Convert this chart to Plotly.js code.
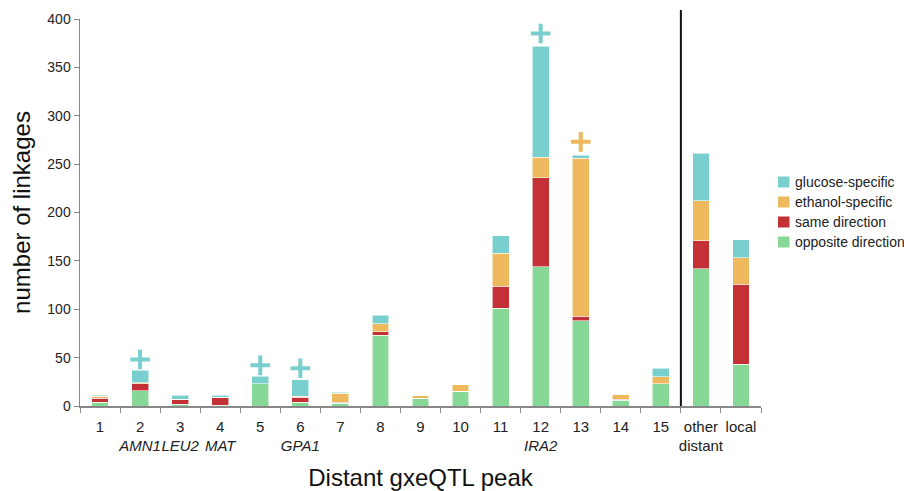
<!DOCTYPE html>
<html>
<head>
<meta charset="utf-8">
<script src="https://cdn.plot.ly/plotly-3.0.1.min.js"></script>
<style>html,body{margin:0;padding:0;background:#fff;}#chart{width:904px;height:491px;}</style>
</head>
<body>
<div id="chart"></div>
<script>
// Categories and labels
const categories = ["1","2","3","4","5","6","7","8","9","10","11","12","13","14","15","other","local"];
const secondLine = ["","AMN1","LEU2","MAT","","GPA1","","","","","","IRA2","","","","distant",""];
const italicSecond = [true,true,true,true,true,true,true,true,true,true,true,true,true,true,true,false,false];

// Series values (stacked bottom to top)
const opposite = [4,16,2,1,23,4,3,73,8,15,101,144,88,6,23,142,43];
const same     = [4,7,5,8,0,5,1,4,0,0,23,92,5,1,0,29,83];
const ethanol  = [2,1,0,0,0,1,9,8,3,7,34,21,163,5,7,41,27];
const glucose  = [1,13,4,2,8,17,1,9,0,0,18,115,3,0,9,49,19];
const seriesNames = ["glucose-specific","ethanol-specific","same direction","opposite direction"];

// Significance markers (+)
const plusCyanCats = ["2","5","6","12"];
const plusCyanY    = [48,42,39,385];
const plusOrangeCats = ["13"];
const plusOrangeY    = [273];

const colors = {glucose:"#79CECE", ethanol:"#EEB85C", same:"#C33136", opposite:"#87D896"};
const legendColors = [colors.glucose, colors.ethanol, colors.same, colors.opposite];

const labelOf = {};
categories.forEach((c,i)=>{
  let s = c;
  if (secondLine[i]) s += "<br>" + (italicSecond[i] ? "<i>"+secondLine[i]+"</i>" : secondLine[i]);
  labelOf[c] = s;
});
const xs = categories.map(c=>labelOf[c]);

function bar(name, y, color){
  return {type:"bar", name:name, x:xs, y:y, width:0.42, showlegend:false,
    marker:{color:color, line:{color:"rgba(255,255,255,0.7)", width:0.8}},
    hoverinfo:"y+name"};
}

const data = [
  bar(seriesNames[3], opposite, colors.opposite),
  bar(seriesNames[2], same, colors.same),
  bar(seriesNames[1], ethanol, colors.ethanol),
  bar(seriesNames[0], glucose, colors.glucose),
  {type:"scatter", mode:"markers", x:plusCyanCats.map(c=>labelOf[c]), y:plusCyanY, showlegend:false,
   marker:{symbol:"cross-thin", size:14, color:colors.glucose, line:{color:colors.glucose, width:4}}, hoverinfo:"skip"},
  {type:"scatter", mode:"markers", x:plusOrangeCats.map(c=>labelOf[c]), y:plusOrangeY, showlegend:false,
   marker:{symbol:"cross-thin", size:14, color:colors.ethanol, line:{color:colors.ethanol, width:4}}, hoverinfo:"skip"}
];

// Manual legend (paper coordinates)
const L = 80, W = 681, B = 406, H = 387;
const px2x = p => (p - L) / W;
const py2y = p => (B - p) / H;
const shapes = [{type:"line", xref:"x", yref:"paper", x0:14.5, x1:14.5, y0:0, y1:1.023,
    line:{color:"#111", width:2}}];
const annotations = [];
seriesNames.forEach((n,i)=>{
  const cy = 182 + i*20;
  shapes.push({type:"rect", xref:"paper", yref:"paper",
    x0:px2x(778), x1:px2x(789.5), y0:py2y(cy+5.5), y1:py2y(cy-5.5),
    fillcolor:legendColors[i], line:{width:0}});
  annotations.push({xref:"paper", yref:"paper", x:px2x(792.5), y:py2y(cy), xanchor:"left", yanchor:"middle",
    text:n, showarrow:false, font:{size:14, color:"#222"}});
});

const layout = {
  width:904, height:491,
  margin:{l:80, r:143, t:19, b:85},
  paper_bgcolor:"#fff", plot_bgcolor:"#fff",
  barmode:"stack",
  font:{family:"Liberation Sans, Arial, sans-serif", color:"#222"},
  showlegend:false,
  xaxis:{type:"category", categoryorder:"array", categoryarray:xs,
    range:[-0.5,16.5], showline:true, linecolor:"#888", linewidth:1.5,
    ticks:"outside", tickson:"boundaries", ticklen:5, tickcolor:"#888", tickwidth:1,
    tickangle:0, automargin:false, ticklabelstandoff:6,
    tickfont:{size:15, color:"#222"}, showgrid:false, zeroline:false,
    title:{text:"Distant gxeQTL peak", font:{size:24, color:"#111"}, standoff:16}},
  yaxis:{range:[0,400], dtick:50, showline:true, linecolor:"#888", linewidth:1.5,
    ticks:"outside", ticklen:5, tickcolor:"#888", tickfont:{size:14, color:"#222"},
    showgrid:false, zeroline:false, automargin:false,
    title:{text:"number of linkages", font:{size:24, color:"#111"}, standoff:10}},
  shapes:shapes,
  annotations:annotations
};

Plotly.newPlot("chart", data, layout, {displayModeBar:false, staticPlot:true});
</script>
</body>
</html>
